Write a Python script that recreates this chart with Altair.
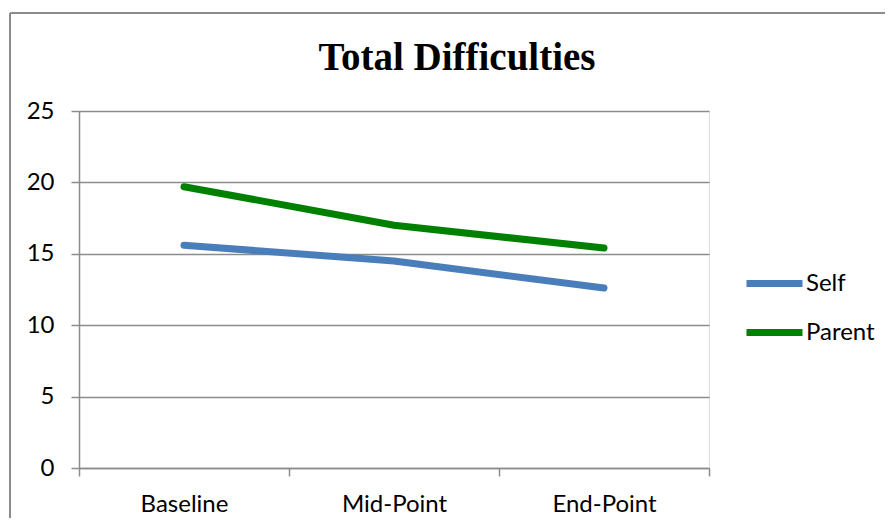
import altair as alt
import pandas as pd

categories = ["Baseline", "Mid-Point", "End-Point"]
series_names = ["Self", "Parent"]
self_values = [15.6, 14.5, 12.6]
parent_values = [19.7, 17.0, 15.4]
y_ticks = [0, 5, 10, 15, 20, 25]
colors = ["#4a7ebb", "#008000"]

rows = []
for name, vals in zip(series_names, [self_values, parent_values]):
    for c, v in zip(categories, vals):
        rows.append({"Stage": c, "Series": name, "Value": v})
df = pd.DataFrame(rows)

W, H = 630, 357
PAD_L, PAD_T = 71, 103

lines = alt.Chart(df).mark_line(strokeWidth=7, strokeCap="round", strokeJoin="round").encode(
    x=alt.X("Stage:N", sort=categories, bandPosition=0.5,
            scale=alt.Scale(type="band", paddingInner=0, paddingOuter=0),
            axis=alt.Axis(title=None, labelAngle=0, grid=False, tickBand="extent",
                          domainColor="#8c8c8c", domainWidth=1.5, tickColor="#8c8c8c",
                          tickWidth=1.5, tickSize=8, labelPadding=16, labelFontSize=24,
                          labelFont="Lato", labelColor="#000000")),
    y=alt.Y("Value:Q", scale=alt.Scale(domain=[0, 25], nice=False),
            axis=alt.Axis(title=None, values=y_ticks, grid=True, gridColor="#8c8c8c",
                          gridWidth=1.5, domainColor="#8c8c8c", domainWidth=1.5,
                          tickColor="#8c8c8c", tickWidth=1.5, tickSize=8, labelPadding=17,
                          labelFontSize=24, labelFont="Lato", labelColor="#000000")),
    color=alt.Color("Series:N", sort=series_names,
                    scale=alt.Scale(domain=series_names, range=colors),
                    legend=alt.Legend(title=None, orient="none", legendX=664, legendY=141,
                                      symbolType="stroke", symbolSize=3136,
                                      symbolStrokeWidth=7, labelFont="Lato",
                                      labelFontSize=24, labelColor="#000000",
                                      labelOffset=0, rowPadding=3, padding=0)),
)

frame_left = alt.Chart(pd.DataFrame({"k": [0]})).mark_rule(color="#8c8c8c", strokeWidth=2).encode(
    x=alt.value(10 - 8 - PAD_L), y=alt.value(13 - 8 - PAD_T), y2=alt.value(H + 80)
)
frame_top = alt.Chart(pd.DataFrame({"k": [0]})).mark_rule(color="#8c8c8c", strokeWidth=2).encode(
    x=alt.value(10 - 8 - PAD_L), x2=alt.value(W + 200), y=alt.value(13 - 8 - PAD_T)
)

chart = alt.layer(frame_left, frame_top, lines).properties(
    width=W, height=H,
    title=alt.TitleParams("Total Difficulties", font="Liberation Serif", fontSize=39,
                          fontWeight="bold", color="#000000", anchor="middle",
                          baseline="alphabetic",
                          frame="group", offset=-97, dx=63),
    autosize=alt.AutoSizeParams(type="none"),
    padding={"left": PAD_L, "top": PAD_T, "right": 176, "bottom": 50},
).configure_view(stroke=None).configure(background="white")

chart.save("out.html", embed_options={"renderer": "svg", "actions": False})
